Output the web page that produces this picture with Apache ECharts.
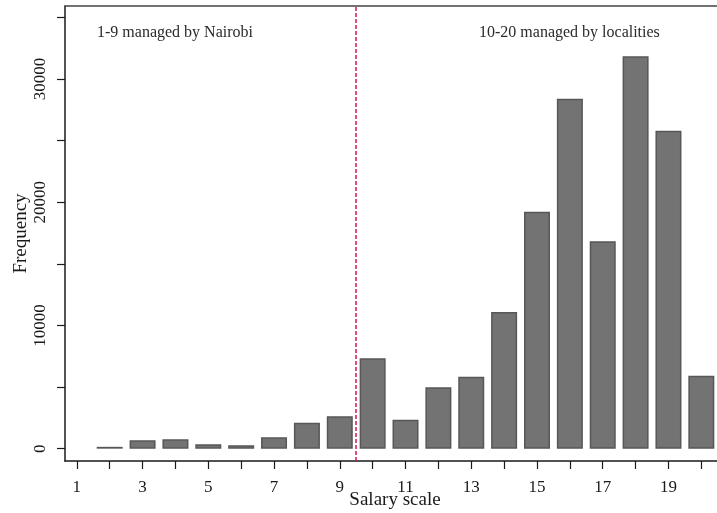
<!DOCTYPE html>
<html>
<head>
<meta charset="utf-8">
<title>Salary scale frequency</title>
<script src="https://cdn.jsdelivr.net/npm/echarts@6/dist/echarts.min.js"></script>
<style>
  html, body { margin: 0; padding: 0; background: #fff; }
  #chart { width: 717px; height: 513px; }
</style>
</head>
<body>
<div id="chart"></div>
<script>
// Salary scale grades and the number of staff in each grade
const scales = [2, 3, 4, 5, 6, 7, 8, 9, 10, 11, 12, 13, 14, 15, 16, 17, 18, 19, 20];
const frequency = [150, 680, 760, 360, 280, 920, 2110, 2630, 7330, 2350, 4980, 5840, 11100, 19240, 28400, 16830, 31850, 25800, 5920];

// Axis ticks and labels
const xTickValues = [1, 2, 3, 4, 5, 6, 7, 8, 9, 10, 11, 12, 13, 14, 15, 16, 17, 18, 19, 20];
const xLabelValues = [1, 3, 5, 7, 9, 11, 13, 15, 17, 19];
const yTickValues = [0, 5000, 10000, 15000, 20000, 25000, 30000, 35000];
const yLabelValues = [0, 10000, 20000, 30000];

// Boundary between centrally and locally managed grades
const splitAt = 9.5;
const leftNote = '1-9 managed by Nairobi';
const rightNote = '10-20 managed by localities';

const serif = '"Liberation Serif", "DejaVu Serif", serif';
const ink = '#1a1a1a';

const chart = echarts.init(document.getElementById('chart'), null, { renderer: 'canvas' });

chart.setOption({
  animation: false,
  backgroundColor: '#ffffff',
  grid: { left: 65, right: -8, top: 6, bottom: 52, containLabel: false, outerBoundsMode: 'none' },
  xAxis: [
    {
      type: 'value',
      min: 0.64,
      max: 20.72,
      name: 'Salary scale',
      nameLocation: 'middle',
      nameGap: 30,
      nameMoveOverlap: false,
      nameTextStyle: { fontFamily: serif, fontSize: 19, color: ink },
      axisLine: { onZero: false, lineStyle: { color: ink, width: 1.5 } },
      axisTick: { show: true, length: 8, lineStyle: { color: ink, width: 1.2 }, customValues: xTickValues },
      axisLabel: { fontFamily: serif, fontSize: 17, color: ink, margin: 18, customValues: xLabelValues },
      splitLine: { show: false }
    },
    {
      type: 'value',
      position: 'top',
      min: 0.64,
      max: 20.72,
      axisLine: { show: true, onZero: false, lineStyle: { color: '#444', width: 1.5 } },
      axisTick: { show: false },
      axisLabel: { show: false },
      splitLine: { show: false }
    }
  ],
  yAxis: {
    type: 'value',
    min: -1000,
    max: 35930,
    name: 'Frequency',
    nameLocation: 'middle',
    nameGap: 34,
    nameMoveOverlap: false,
    nameTextStyle: { fontFamily: serif, fontSize: 19, color: ink },
    axisLine: { show: true, onZero: false, lineStyle: { color: ink, width: 1.5 } },
    axisTick: { show: true, length: 8, lineStyle: { color: ink, width: 1.2 }, customValues: yTickValues },
    axisLabel: {
      fontFamily: serif, fontSize: 17, color: ink, rotate: 90, margin: 16,
      customValues: yLabelValues,
      formatter: (v) => String(v)
    },
    splitLine: { show: false }
  },
  series: [
    {
      type: 'bar',
      xAxisIndex: 0,
      barWidth: 26,
      data: scales.map((s, i) => [s, frequency[i]]),
      itemStyle: { color: '#737373', borderColor: '#575757', borderWidth: 1.5 },
      markLine: {
        silent: true,
        symbol: 'none',
        label: { show: false },
        lineStyle: { color: '#d0164d', type: [4, 2], width: 1.5 },
        data: [{ xAxis: splitAt }]
      }
    }
  ],
  graphic: [
    {
      type: 'text',
      left: 97,
      top: 25,
      style: { text: leftNote, font: '16px ' + serif, fill: '#2a2a2a' }
    },
    {
      type: 'text',
      left: 479,
      top: 25,
      style: { text: rightNote, font: '16px ' + serif, fill: '#2a2a2a' }
    }
  ]
});
</script>
</body>
</html>
